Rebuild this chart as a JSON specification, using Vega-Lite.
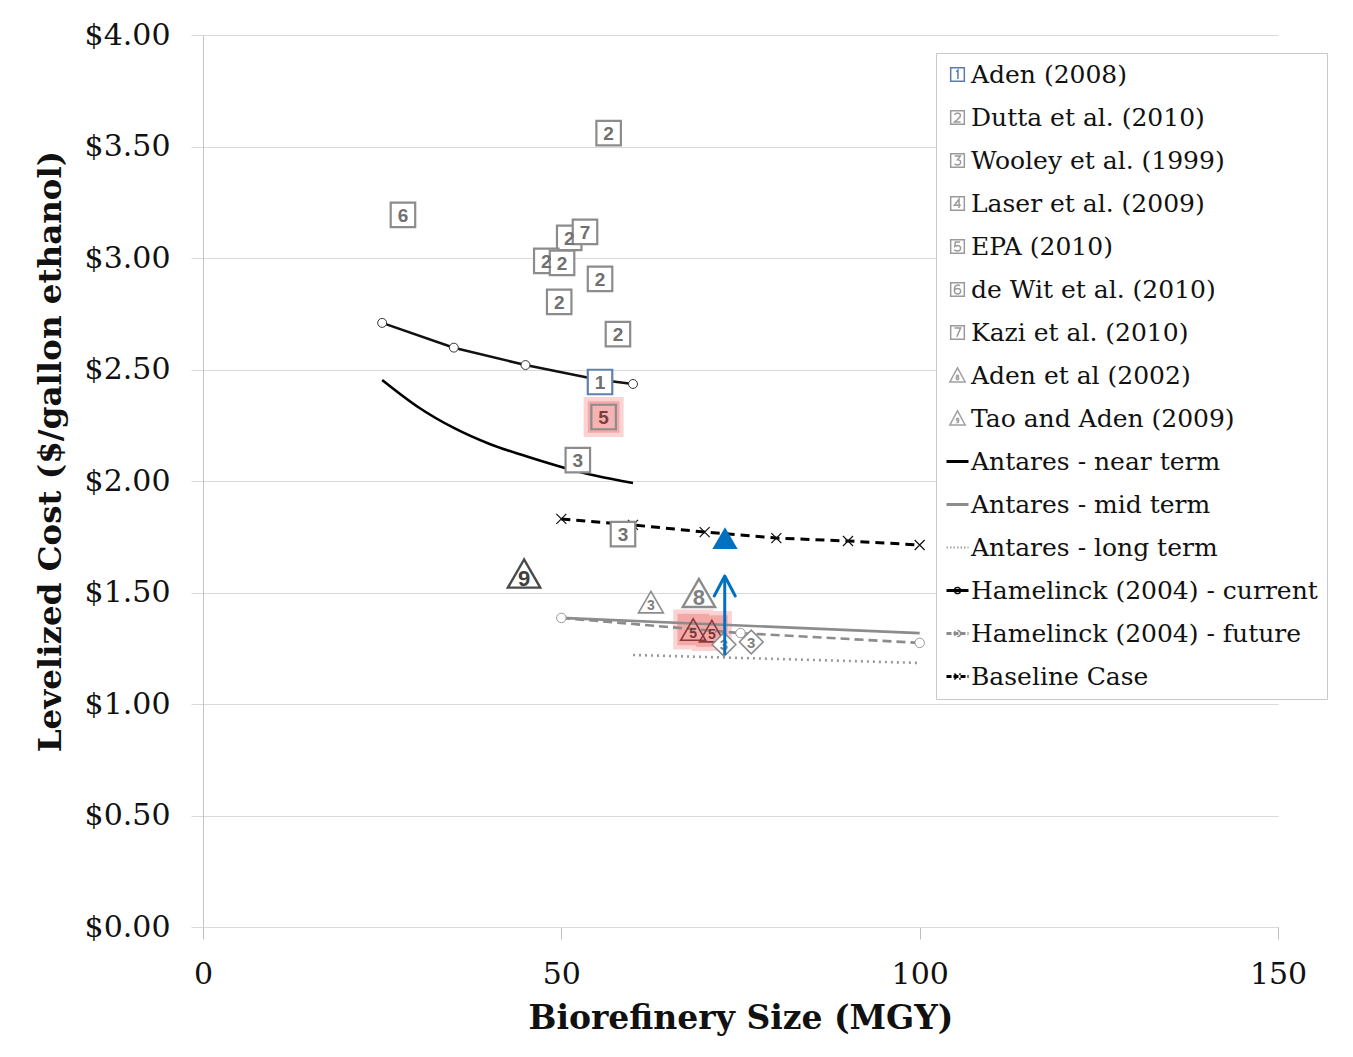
{
  "$schema": "https://vega.github.io/schema/vega-lite/v6.json",
  "autosize": {"type": "none"},
  "width": 1075,
  "height": 892,
  "padding": {"left": 203, "top": 35, "right": 75, "bottom": 130},
  "background": "white",
  "config": {
    "view": {"stroke": null},
    "legend": {
      "orient": "none",
      "legendX": 733,
      "legendY": 18,
      "padding": 9,
      "fillColor": "white",
      "strokeColor": "#c8c8c8",
      "labelFont": "DejaVu Serif",
      "labelFontSize": 25,
      "labelColor": "#111111",
      "labelLimit": 500,
      "labelOffset": 1,
      "symbolSize": 484,
      "symbolStrokeWidth": 1.5,
      "symbolOpacity": 1,
      "symbolFillColor": "transparent",
      "rowPadding": 17,
      "titlePadding": 0
    }
  },
  "datasets": {
    "lines": [
      {"series": "Antares - near term", "x": 25, "y": 2.453},
      {"series": "Antares - near term", "x": 30, "y": 2.332},
      {"series": "Antares - near term", "x": 35, "y": 2.238},
      {"series": "Antares - near term", "x": 40, "y": 2.166},
      {"series": "Antares - near term", "x": 45, "y": 2.112},
      {"series": "Antares - near term", "x": 50, "y": 2.063},
      {"series": "Antares - near term", "x": 55, "y": 2.022},
      {"series": "Antares - near term", "x": 60, "y": 1.991},
      {"series": "Antares - mid term", "x": 50, "y": 1.386},
      {"series": "Antares - mid term", "x": 75, "y": 1.352},
      {"series": "Antares - mid term", "x": 100, "y": 1.318},
      {"series": "Antares - long term", "x": 60, "y": 1.22},
      {"series": "Antares - long term", "x": 100, "y": 1.184},
      {"series": "Hamelinck (2004) - current", "x": 25, "y": 2.709},
      {"series": "Hamelinck (2004) - current", "x": 35, "y": 2.598},
      {"series": "Hamelinck (2004) - current", "x": 45, "y": 2.52},
      {"series": "Hamelinck (2004) - current", "x": 55, "y": 2.455},
      {"series": "Hamelinck (2004) - current", "x": 60, "y": 2.435},
      {"series": "Hamelinck (2004) - future", "x": 50, "y": 1.386},
      {"series": "Hamelinck (2004) - future", "x": 75, "y": 1.318},
      {"series": "Hamelinck (2004) - future", "x": 100, "y": 1.274},
      {"series": "Baseline Case", "x": 50, "y": 1.83},
      {"series": "Baseline Case", "x": 60, "y": 1.803},
      {"series": "Baseline Case", "x": 70, "y": 1.771},
      {"series": "Baseline Case", "x": 80, "y": 1.744},
      {"series": "Baseline Case", "x": 90, "y": 1.731},
      {"series": "Baseline Case", "x": 100, "y": 1.713}
    ],
    "pts": [
      {"series": "Dutta et al. (2010)", "marker": "box", "label": "2", "x": 56.6, "y": 3.56},
      {"series": "de Wit et al. (2010)", "marker": "box", "label": "6", "x": 27.9, "y": 3.193},
      {"series": "Dutta et al. (2010)", "marker": "box", "label": "2", "x": 51.1, "y": 3.09},
      {"series": "Kazi et al. (2010)", "marker": "box", "label": "7", "x": 53.3, "y": 3.117},
      {"series": "Dutta et al. (2010)", "marker": "box", "label": "2", "x": 47.9, "y": 2.987},
      {"series": "Dutta et al. (2010)", "marker": "box", "label": "2", "x": 50.1, "y": 2.978},
      {"series": "Dutta et al. (2010)", "marker": "box", "label": "2", "x": 55.4, "y": 2.906},
      {"series": "Dutta et al. (2010)", "marker": "box", "label": "2", "x": 49.7, "y": 2.803},
      {"series": "Dutta et al. (2010)", "marker": "box", "label": "2", "x": 57.9, "y": 2.659},
      {"series": "Aden (2008)", "marker": "box", "label": "1", "x": 55.4, "y": 2.444},
      {"series": "EPA (2010)", "marker": "box", "label": "5", "x": 55.9, "y": 2.287},
      {"series": "Wooley et al. (1999)", "marker": "box", "label": "3", "x": 52.3, "y": 2.094},
      {"series": "Wooley et al. (1999)", "marker": "box", "label": "3", "x": 58.6, "y": 1.762},
      {"series": "Tao and Aden (2009)", "marker": "bigtri", "label": "9", "x": 44.8, "y": 1.585},
      {"series": "Aden et al (2002)", "marker": "bigtri", "label": "8", "x": 69.2, "y": 1.498},
      {"series": "Wooley et al. (1999)", "marker": "tri", "label": "3", "x": 62.5, "y": 1.457},
      {"series": "EPA (2010)", "marker": "tri", "label": "5", "x": 68.4, "y": 1.334},
      {"series": "EPA (2010)", "marker": "tri", "label": "5", "x": 71.0, "y": 1.327},
      {"series": "Wooley et al. (1999)", "marker": "dia", "label": "3", "x": 72.7, "y": 1.267},
      {"series": "Wooley et al. (1999)", "marker": "dia", "label": "3", "x": 76.5, "y": 1.278}
    ],
    "glow": [
      {"x": 55.9, "y": 2.287},
      {"x": 68.4, "y": 1.334},
      {"x": 71.0, "y": 1.327}
    ],
    "blue": [{"x": 72.84, "y": 1.744}],
    "arrow": [{"x": 72.8, "ylo": 1.22, "yhi": 1.574}],
    "legend": [
      {"series": "Aden (2008)", "x": 55.4, "y": 2.444},
      {"series": "Dutta et al. (2010)", "x": 56.6, "y": 3.56},
      {"series": "Wooley et al. (1999)", "x": 52.3, "y": 2.094},
      {"series": "Laser et al. (2009)", "x": 72.7, "y": 1.267},
      {"series": "EPA (2010)", "x": 55.9, "y": 2.287},
      {"series": "de Wit et al. (2010)", "x": 27.9, "y": 3.193},
      {"series": "Kazi et al. (2010)", "x": 53.3, "y": 3.117},
      {"series": "Aden et al (2002)", "x": 69.2, "y": 1.498},
      {"series": "Tao and Aden (2009)", "x": 44.8, "y": 1.585},
      {"series": "Antares - near term", "x": 25, "y": 2.453},
      {"series": "Antares - mid term", "x": 50, "y": 1.386},
      {"series": "Antares - long term", "x": 60, "y": 1.22},
      {"series": "Hamelinck (2004) - current", "x": 25, "y": 2.709},
      {"series": "Hamelinck (2004) - future", "x": 50, "y": 1.386},
      {"series": "Baseline Case", "x": 50, "y": 1.83}
    ]
  },
  "encoding": {
    "x": {
      "field": "x", "type": "quantitative",
      "scale": {"domain": [0, 150], "nice": false, "zero": false},
      "axis": {
        "title": "Biorefinery Size (MGY)",
        "values": [0, 50, 100, 150],
        "grid": false,
        "domain": true, "domainColor": "#d9d9d9",
        "ticks": true, "tickSize": 12, "tickColor": "#bfbfbf",
        "labelFont": "DejaVu Serif", "labelFontSize": 30, "labelColor": "#111111",
        "labelPadding": 20, "labelFlush": false,
        "titleFont": "DejaVu Serif", "titleFontSize": 33, "titleFontWeight": "bold", "titleColor": "#111111",
        "titlePadding": 13
      }
    },
    "y": {
      "field": "y", "type": "quantitative",
      "scale": {"domain": [0, 4], "nice": false, "zero": false},
      "axis": {
        "title": "Levelized Cost ($/gallon ethanol)",
        "values": [0, 0.5, 1, 1.5, 2, 2.5, 3, 3.5, 4],
        "format": "$.2f",
        "grid": true, "gridColor": "#d9d9d9",
        "domain": true, "domainColor": "#c4c4c4",
        "ticks": true, "tickSize": 12, "tickColor": "#d9d9d9",
        "labelFont": "DejaVu Serif", "labelFontSize": 30, "labelColor": "#111111",
        "labelPadding": 21,
        "titleFont": "DejaVu Serif", "titleFontSize": 32.5, "titleFontWeight": "bold", "titleColor": "#111111",
        "titleX": -153, "titleY": 416, "titleAngle": -90, "titleAlign": "center", "titleBaseline": "middle"
      }
    }
  },
  "layer": [
    {
      "data": {"name": "glow"},
      "mark": {"type": "point", "shape": "square", "filled": true, "fill": "#fbd3d3", "strokeWidth": 0, "size": 1600, "opacity": 1}
    },
    {
      "data": {"name": "glow"},
      "mark": {"type": "point", "shape": "square", "filled": true, "fill": "#f4a9a9", "strokeWidth": 0, "size": 1000, "opacity": 1}
    },
    {
      "data": {"name": "lines"},
      "transform": [{"filter": "datum.series == 'Antares - near term'"}],
      "mark": {"type": "line", "stroke": "#000000", "strokeWidth": 2.6, "interpolate": "monotone"}
    },
    {
      "data": {"name": "lines"},
      "transform": [{"filter": "datum.series == 'Antares - mid term'"}],
      "mark": {"type": "line", "stroke": "#8c8c8c", "strokeWidth": 2.6}
    },
    {
      "data": {"name": "lines"},
      "transform": [{"filter": "datum.series == 'Antares - long term'"}],
      "mark": {"type": "line", "stroke": "#999999", "strokeWidth": 2.6, "strokeDash": [2, 4]}
    },
    {
      "data": {"name": "lines"},
      "transform": [{"filter": "datum.series == 'Hamelinck (2004) - current'"}],
      "mark": {"type": "line", "stroke": "#111111", "strokeWidth": 2.6}
    },
    {
      "data": {"name": "lines"},
      "transform": [{"filter": "datum.series == 'Hamelinck (2004) - future'"}],
      "mark": {"type": "line", "stroke": "#8c8c8c", "strokeWidth": 2.6, "strokeDash": [9, 5]}
    },
    {
      "data": {"name": "lines"},
      "transform": [{"filter": "datum.series == 'Baseline Case'"}],
      "mark": {"type": "line", "stroke": "#000000", "strokeWidth": 3, "strokeDash": [9, 6]}
    },
    {
      "data": {"name": "lines"},
      "transform": [{"filter": "datum.series == 'Hamelinck (2004) - current'"}],
      "mark": {"type": "point", "shape": "circle", "filled": true, "fill": "white", "stroke": "#333333", "strokeWidth": 1, "size": 80, "opacity": 1}
    },
    {
      "data": {"name": "lines"},
      "transform": [{"filter": "datum.series == 'Hamelinck (2004) - future'"}],
      "mark": {"type": "point", "shape": "circle", "filled": true, "fill": "white", "stroke": "#999999", "strokeWidth": 1, "size": 90, "opacity": 1}
    },
    {
      "data": {"name": "lines"},
      "transform": [{"filter": "datum.series == 'Baseline Case'"}],
      "mark": {"type": "point", "shape": "M-1,-1L1,1M-1,1L1,-1", "filled": false, "stroke": "#111111", "strokeWidth": 1.2, "size": 100, "opacity": 1}
    },
    {
      "data": {"name": "pts"},
      "transform": [{"filter": "datum.marker == 'box'"}],
      "mark": {"type": "point", "shape": "square", "filled": true, "fill": "white", "strokeWidth": 2.2, "size": 600, "opacity": 1},
      "encoding": {
        "stroke": {"condition": {"test": "datum.series == 'Aden (2008)'", "value": "#6080b0"}, "value": "#8c8c8c"},
        "fill": {"condition": {"test": "datum.series == 'EPA (2010)'", "value": "#f6b3b3"}, "value": "white"}
      }
    },
    {
      "data": {"name": "pts"},
      "transform": [{"filter": "datum.marker == 'box'"}],
      "mark": {"type": "text", "font": "Liberation Sans", "fontWeight": "bold", "fontSize": 19, "align": "center", "baseline": "middle", "dy": 1},
      "encoding": {
        "text": {"field": "label"},
        "color": {"condition": {"test": "datum.series == 'EPA (2010)'", "value": "#7a4040"}, "value": "#707070"}
      }
    },
    {
      "data": {"name": "pts"},
      "transform": [{"filter": "datum.marker == 'bigtri'"}],
      "mark": {"type": "point", "shape": "triangle-up", "filled": true, "fill": "white", "strokeWidth": 2.4, "size": 1050, "opacity": 1},
      "encoding": {
        "stroke": {"condition": {"test": "datum.series == 'Tao and Aden (2009)'", "value": "#4a4a4a"}, "value": "#8c8c8c"}
      }
    },
    {
      "data": {"name": "pts"},
      "transform": [{"filter": "datum.marker == 'tri'"}],
      "mark": {"type": "point", "shape": "triangle-up", "filled": false, "strokeWidth": 1.6, "size": 620, "opacity": 1},
      "encoding": {
        "stroke": {"condition": {"test": "datum.series == 'EPA (2010)'", "value": "#8a3a3a"}, "value": "#8c8c8c"}
      }
    },
    {
      "data": {"name": "pts"},
      "transform": [{"filter": "datum.marker == 'dia'"}],
      "mark": {"type": "point", "shape": "diamond", "filled": true, "fill": "white", "stroke": "#8c8c8c", "strokeWidth": 1.6, "size": 560, "opacity": 1}
    },
    {
      "data": {"name": "pts"},
      "transform": [{"filter": "datum.marker == 'bigtri'"}],
      "mark": {"type": "text", "font": "Liberation Sans", "fontWeight": "bold", "fontSize": 22, "align": "center", "baseline": "middle", "dy": 5},
      "encoding": {
        "text": {"field": "label"},
        "color": {"condition": {"test": "datum.series == 'Tao and Aden (2009)'", "value": "#404040"}, "value": "#808080"}
      }
    },
    {
      "data": {"name": "pts"},
      "transform": [{"filter": "datum.marker == 'tri'"}],
      "mark": {"type": "text", "font": "Liberation Sans", "fontWeight": "bold", "fontSize": 14, "align": "center", "baseline": "middle", "dy": 4},
      "encoding": {
        "text": {"field": "label"},
        "color": {"condition": {"test": "datum.series == 'EPA (2010)'", "value": "#7a3535"}, "value": "#808080"}
      }
    },
    {
      "data": {"name": "pts"},
      "transform": [{"filter": "datum.marker == 'dia'"}],
      "mark": {"type": "text", "font": "Liberation Sans", "fontWeight": "bold", "fontSize": 15, "align": "center", "baseline": "middle", "dy": 1, "color": "#808080"},
      "encoding": {"text": {"field": "label"}}
    },
    {
      "data": {"name": "blue"},
      "mark": {"type": "point", "shape": "triangle-up", "filled": true, "fill": "#0070c0", "strokeWidth": 0, "size": 640, "opacity": 1}
    },
    {
      "data": {"name": "arrow"},
      "mark": {"type": "rule", "stroke": "#0070c0", "strokeWidth": 3},
      "encoding": {
        "y": {"field": "ylo", "type": "quantitative"},
        "y2": {"field": "yhi"}
      }
    },
    {
      "data": {"name": "arrow"},
      "mark": {"type": "point", "shape": "M-1,1.9L0,0L1,1.9", "filled": false, "stroke": "#0070c0", "strokeWidth": 3, "size": 441, "opacity": 1, "strokeCap": "round", "strokeJoin": "round"},
      "encoding": {
        "y": {"field": "yhi", "type": "quantitative"}
      }
    },
    {
      "data": {"name": "legend"},
      "mark": {"type": "point", "filled": false, "opacity": 0},
      "encoding": {
        "shape": {
          "field": "series", "type": "nominal",
          "scale": {
            "domain": ["Aden (2008)", "Dutta et al. (2010)", "Wooley et al. (1999)", "Laser et al. (2009)", "EPA (2010)", "de Wit et al. (2010)", "Kazi et al. (2010)", "Aden et al (2002)", "Tao and Aden (2009)", "Antares - near term", "Antares - mid term", "Antares - long term", "Hamelinck (2004) - current", "Hamelinck (2004) - future", "Baseline Case"],
            "range": [
              "M-0.62,-0.62H0.62V0.62H-0.62ZM-0.12,-0.26L0.04,-0.4V0.4",
              "M-0.62,-0.62H0.62V0.62H-0.62ZM-0.26,-0.22Q-0.2,-0.4 0,-0.4Q0.26,-0.4 0.26,-0.18Q0.26,0 -0.26,0.4H0.28",
              "M-0.62,-0.62H0.62V0.62H-0.62ZM-0.26,-0.4H0.26L0,-0.06Q0.28,-0.06 0.28,0.16Q0.28,0.4 0,0.4Q-0.2,0.4 -0.28,0.28",
              "M-0.62,-0.62H0.62V0.62H-0.62ZM0.14,0.4V-0.4L-0.28,0.16H0.3",
              "M-0.62,-0.62H0.62V0.62H-0.62ZM0.24,-0.4H-0.2L-0.24,0Q-0.1,-0.08 0.04,-0.08Q0.28,-0.06 0.28,0.16Q0.28,0.4 0,0.4Q-0.2,0.4 -0.28,0.28",
              "M-0.62,-0.62H0.62V0.62H-0.62ZM0.22,-0.36Q0.12,-0.4 0,-0.4Q-0.28,-0.4 -0.28,0.06Q-0.28,0.4 0,0.4Q0.28,0.4 0.28,0.14Q0.28,-0.08 0,-0.08Q-0.2,-0.08 -0.28,0.06",
              "M-0.62,-0.62H0.62V0.62H-0.62ZM-0.28,-0.4H0.28L-0.06,0.4",
              "M0,-0.7L0.7,0.6H-0.7ZM0,0.16A0.09,0.09 0 1,1 0,-0.02A0.09,0.09 0 1,1 0,0.16ZM0,0.16A0.11,0.11 0 1,0 0,0.38A0.11,0.11 0 1,0 0,0.16Z",
              "M0,-0.7L0.7,0.6H-0.7ZM0.1,0.08A0.1,0.1 0 1,1 -0.1,0.08A0.1,0.1 0 1,1 0.1,0.08V0.22Q0.1,0.38 -0.1,0.38",
              "M-1,-0.06H1M-1,0.06H1",
              "M-1,-0.06H1M-1,0.06H1",
              "M-1,-0.03H1M-1,0.03H1",
              "M-1,-0.06H1M-1,0.06H1M0.28,0A0.28,0.28 0 1,1 -0.28,0A0.28,0.28 0 1,1 0.28,0",
              "M-1,-0.06H1M-1,0.06H1M0.28,0A0.28,0.28 0 1,1 -0.28,0A0.28,0.28 0 1,1 0.28,0",
              "M-1,-0.06H1M-1,0.06H1M-0.28,-0.28L0.28,0.28M-0.28,0.28L0.28,-0.28"
            ]
          },
          "legend": {"title": null}
        },
        "stroke": {
          "field": "series", "type": "nominal",
          "scale": {
            "domain": ["Aden (2008)", "Dutta et al. (2010)", "Wooley et al. (1999)", "Laser et al. (2009)", "EPA (2010)", "de Wit et al. (2010)", "Kazi et al. (2010)", "Aden et al (2002)", "Tao and Aden (2009)", "Antares - near term", "Antares - mid term", "Antares - long term", "Hamelinck (2004) - current", "Hamelinck (2004) - future", "Baseline Case"],
            "range": ["#5b7bb0", "#9a9a9a", "#9a9a9a", "#9a9a9a", "#9a9a9a", "#9a9a9a", "#9a9a9a", "#a0a0a0", "#a0a0a0", "#000000", "#8c8c8c", "#a0a0a0", "#000000", "#8c8c8c", "#000000"]
          },
          "legend": {"title": null}
        },
        "strokeDash": {
          "field": "series", "type": "nominal",
          "scale": {
            "domain": ["Aden (2008)", "Dutta et al. (2010)", "Wooley et al. (1999)", "Laser et al. (2009)", "EPA (2010)", "de Wit et al. (2010)", "Kazi et al. (2010)", "Aden et al (2002)", "Tao and Aden (2009)", "Antares - near term", "Antares - mid term", "Antares - long term", "Hamelinck (2004) - current", "Hamelinck (2004) - future", "Baseline Case"],
            "range": [[1, 0], [1, 0], [1, 0], [1, 0], [1, 0], [1, 0], [1, 0], [1, 0], [1, 0], [1, 0], [1, 0], [1.5, 2], [1, 0], [5, 2], [5, 2]]
          },
          "legend": {"title": null}
        }
      }
    }
  ]
}
